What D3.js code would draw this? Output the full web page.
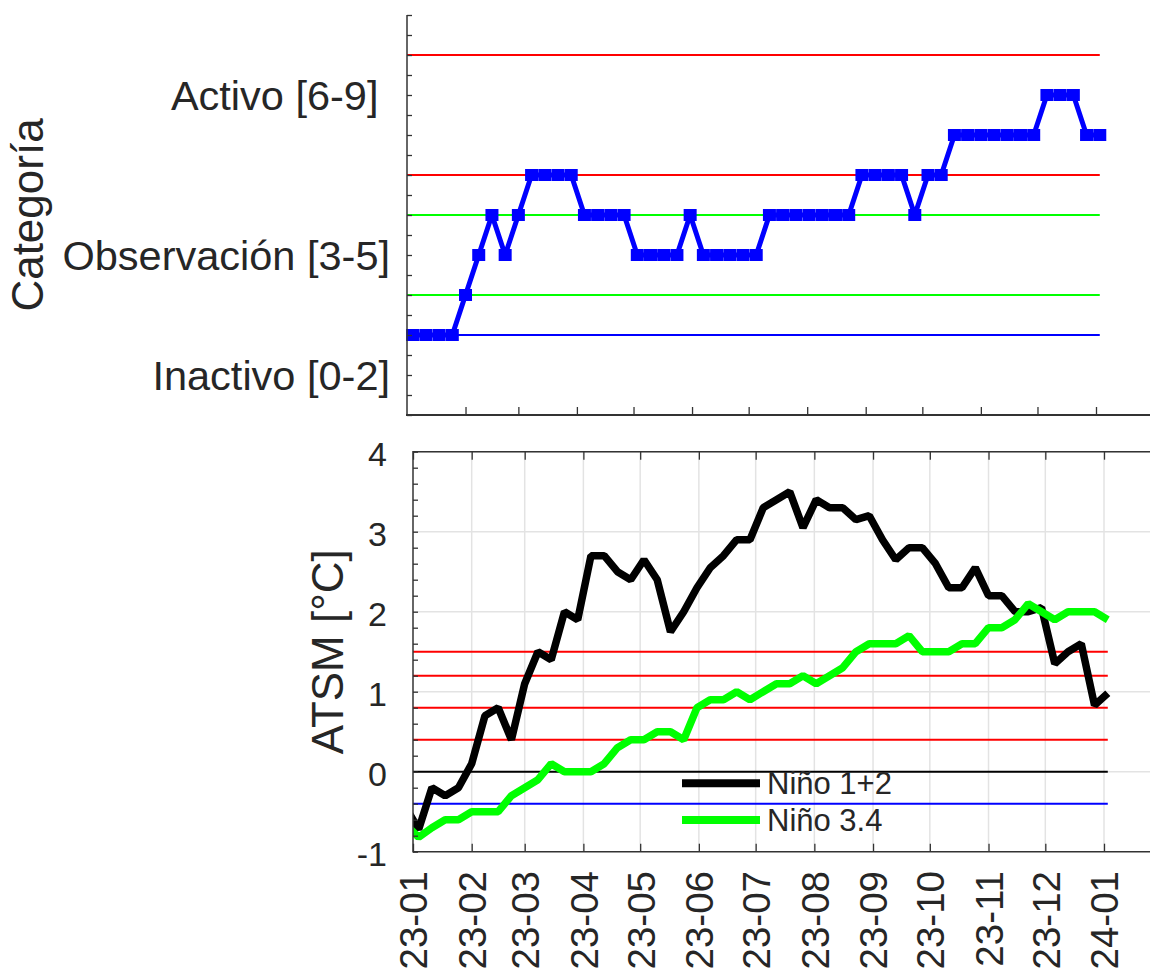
<!DOCTYPE html>
<html><head><meta charset="utf-8">
<script src="https://cdn.jsdelivr.net/npm/d3@7"></script>
<style>
body{margin:0;background:#fff}
svg{display:block}
text{font-family:"Liberation Sans",Arial,Helvetica,sans-serif;fill:#262626}
</style>
</head><body>
<svg id="c" width="1150" height="971"></svg>
<script>
// ---------------- data ----------------
const weekDates = [
 "2023-01-04","2023-01-11","2023-01-18","2023-01-25",
 "2023-02-01","2023-02-08","2023-02-15","2023-02-22",
 "2023-03-01","2023-03-08","2023-03-15","2023-03-22","2023-03-29",
 "2023-04-05","2023-04-12","2023-04-19","2023-04-26",
 "2023-05-03","2023-05-10","2023-05-17","2023-05-24","2023-05-31",
 "2023-06-07","2023-06-14","2023-06-21","2023-06-28",
 "2023-07-05","2023-07-12","2023-07-19","2023-07-26",
 "2023-08-02","2023-08-09","2023-08-16","2023-08-23","2023-08-30",
 "2023-09-06","2023-09-13","2023-09-20","2023-09-27",
 "2023-10-04","2023-10-11","2023-10-18","2023-10-25",
 "2023-11-01","2023-11-08","2023-11-15","2023-11-22","2023-11-29",
 "2023-12-06","2023-12-13","2023-12-20","2023-12-27",
 "2024-01-03"];
const sstDates = ["2022-12-28"].concat(weekDates);

// category level (top panel)
const categoryValues = [2,2,2,2,3,4,5,4,5,6,6,6,6,5,5,5,5,4,4,4,4,5,4,4,4,4,4,
 5,5,5,5,5,5,5,6,6,6,6,5,6,6,7,7,7,7,7,7,7,8,8,8,7,7];

// ATSM series (bottom panel)
const nino12 = [-0.44,-0.72,-0.2,-0.3,-0.2,0.1,0.7,0.8,0.4,1.1,1.5,1.4,2.0,1.9,2.7,2.7,2.5,2.4,2.65,2.4,
 1.75,2.0,2.3,2.55,2.7,2.9,2.9,3.3,3.4,3.5,3.05,3.4,3.3,3.3,3.15,3.2,2.9,2.65,2.8,2.8,
 2.6,2.3,2.3,2.55,2.2,2.2,2.0,2.0,2.05,1.35,1.5,1.6,0.83,0.98];
const nino34 = [-0.66,-0.82,-0.7,-0.6,-0.6,-0.5,-0.5,-0.5,-0.3,-0.2,-0.1,0.1,0.0,0.0,0.0,0.1,0.3,0.4,0.4,0.5,
 0.5,0.4,0.8,0.9,0.9,1.0,0.9,1.0,1.1,1.1,1.2,1.1,1.2,1.3,1.5,1.6,1.6,1.6,1.7,1.5,
 1.5,1.5,1.6,1.6,1.8,1.8,1.9,2.1,2.0,1.9,2.0,2.0,2.0,1.9];
const seriesNames = ["Niño 1+2","Niño 3.4"];

// thresholds
const catRed = [6,9], catGreen = [3,5], catBlue = [2];
const atsmRed = [0.4,0.8,1.2,1.5], atsmBlue = [-0.4], atsmZero = [0];

// ticks / labels
const catTickValues = [1,4,8];
const catTickLabels = ["Inactivo [0-2]","Observación [3-5]","Activo [6-9] "];
const atsmTicks = [-1,0,1,2,3,4];
const atsmTickLabels = ["-1","0","1","2","3","4"];
const monthTicks = ["2023-01-01","2023-02-01","2023-03-01","2023-04-01","2023-05-01","2023-06-01",
 "2023-07-01","2023-08-01","2023-09-01","2023-10-01","2023-11-01","2023-12-01","2024-01-01"];
const monthLabels = ["23-01","23-02","23-03","23-04","23-05","23-06","23-07","23-08","23-09","23-10","23-11","23-12","24-01"];

// ---------------- drawing ----------------
const parse = d3.utcParse("%Y-%m-%d");
const W = 1150;
const svg = d3.select("#c");
const AX = "#333333";
const FONT = '"Liberation Sans",Arial,sans-serif';
const months = monthTicks.map(parse);
const d0 = parse("2023-01-01"), d1 = parse("2024-01-01");
const lastDate = parse(weekDates[weekDates.length-1]);

// ===== Top panel =====
const xT = d3.scaleUtc().domain([d0,d1]).range([407,1096]);
const yT = d3.scaleLinear().domain([0,10]).range([415,15]);
const gTop = svg.append("g");

function hline(g, xs, y, color, w){
  g.append("line").attr("x1",xs[0]).attr("x2",xs[1]).attr("y1",y).attr("y2",y)
   .attr("stroke",color).attr("stroke-width",w);
}
catRed.forEach(v=>hline(gTop,[xT(d0),xT(lastDate)],yT(v),"#ff0000",2.2));
catGreen.forEach(v=>hline(gTop,[xT(d0),xT(lastDate)],yT(v),"#00ff00",2.2));
catBlue.forEach(v=>hline(gTop,[xT(d0),xT(lastDate)],yT(v),"#0000ff",2.2));

const catData = weekDates.map((d,i)=>({d:parse(d),v:categoryValues[i]}));
gTop.append("path").datum(catData)
  .attr("d",d3.line().x(p=>xT(p.d)).y(p=>yT(p.v)))
  .attr("fill","none").attr("stroke","#0000ff").attr("stroke-width",5).attr("stroke-linejoin","bevel");
gTop.selectAll("rect.mk").data(catData).join("rect").attr("class","mk")
  .attr("x",p=>xT(p.d)-6.5).attr("y",p=>yT(p.v)-6).attr("width",13).attr("height",12)
  .attr("fill","#0000ff");

// left axis (ticks inward)
const ly = gTop.append("g").attr("transform","translate(407,0)")
  .call(d3.axisLeft(yT).tickValues(d3.range(0,10.001,0.5)).tickSize(-5).tickFormat(""));
ly.select(".domain").remove();
ly.selectAll("line").attr("stroke",AX).attr("stroke-width",1.3);
gTop.append("line").attr("x1",407).attr("x2",407).attr("y1",15).attr("y2",415).attr("stroke",AX).attr("stroke-width",1.5);
const ll = gTop.append("g").attr("transform","translate(390,0)")
  .call(d3.axisLeft(yT).tickValues(catTickValues).tickSize(0)
    .tickFormat((d,i)=>catTickLabels[i]));
ll.select(".domain").remove();
ll.selectAll("text").attr("font-size",41.5).attr("fill","#262626").attr("x",0).attr("dy","0.35em")
  .attr("font-family",FONT).attr("xml:space","preserve").style("white-space","pre");
// bottom axis of top panel
const bx = gTop.append("g").attr("transform","translate(0,415)")
  .call(d3.axisBottom(xT).tickValues(months.slice(1)).tickSize(-8).tickFormat(""));
bx.select(".domain").remove();
bx.selectAll("line").attr("stroke",AX).attr("stroke-width",1.3);
gTop.append("line").attr("x1",406).attr("x2",W).attr("y1",415).attr("y2",415).attr("stroke",AX).attr("stroke-width",2);

svg.append("text").attr("transform","translate(43,215) rotate(-90)")
  .attr("text-anchor","middle").attr("font-size",44).text("Categoría");

// ===== Bottom panel =====
const xB = d3.scaleUtc().domain([d0,d1]).range([413,1104]);
const yB = d3.scaleLinear().domain([-1,4]).range([851.7,451.7]);
const bot = svg.append("g");
svg.append("defs").append("clipPath").attr("id","clipB")
  .append("rect").attr("x",413).attr("y",451.7).attr("width",W-413).attr("height",400);

// grid
bot.append("g").selectAll("line").data(months.slice(1)).join("line")
  .attr("x1",d=>xB(d)).attr("x2",d=>xB(d)).attr("y1",451.7).attr("y2",851.7)
  .attr("stroke","#e3e3e3").attr("stroke-width",1.5);
bot.append("g").selectAll("line").data(atsmTicks.slice(1)).join("line")
  .attr("x1",413).attr("x2",W).attr("y1",d=>yB(d)).attr("y2",d=>yB(d))
  .attr("stroke","#e3e3e3").attr("stroke-width",1.5);

atsmRed.forEach(v=>hline(bot,[xB(d0),xB(lastDate)],yB(v),"#ff0000",2));
atsmBlue.forEach(v=>hline(bot,[xB(d0),xB(lastDate)],yB(v),"#0000ff",2));
atsmZero.forEach(v=>hline(bot,[xB(d0),xB(lastDate)],yB(v),"#000000",2));

const lines = bot.append("g").attr("clip-path","url(#clipB)");
const lineGen = d3.line().x(p=>xB(p.d)).y(p=>yB(p.v));
const s12 = sstDates.map((d,i)=>({d:parse(d),v:nino12[i]}));
const s34 = sstDates.map((d,i)=>({d:parse(d),v:nino34[i]}));
lines.append("path").datum(s12).attr("d",lineGen).attr("fill","none")
  .attr("stroke","#000000").attr("stroke-width",7.5).attr("stroke-linejoin","bevel");
lines.append("path").datum(s34).attr("d",lineGen).attr("fill","none")
  .attr("stroke","#00ff00").attr("stroke-width",7.5).attr("stroke-linejoin","bevel");

// box
bot.append("line").attr("x1",413).attr("x2",W).attr("y1",451.7).attr("y2",451.7).attr("stroke",AX).attr("stroke-width",1.5);
bot.append("line").attr("x1",413).attr("x2",W).attr("y1",851.7).attr("y2",851.7).attr("stroke",AX).attr("stroke-width",1.5);
bot.append("line").attr("x1",413).attr("x2",413).attr("y1",451).attr("y2",852.5).attr("stroke",AX).attr("stroke-width",1.5);

// ticks
const tb = bot.append("g").attr("transform","translate(0,851.7)")
  .call(d3.axisBottom(xB).tickValues(months).tickSize(-8).tickFormat(""));
tb.select(".domain").remove();
tb.selectAll("line").attr("stroke",AX).attr("stroke-width",1.3);
const tt = bot.append("g").attr("transform","translate(0,451.7)")
  .call(d3.axisTop(xB).tickValues(months).tickSize(-8).tickFormat(""));
tt.select(".domain").remove();
tt.selectAll("line").attr("stroke",AX).attr("stroke-width",1.3);
const tl = bot.append("g").attr("transform","translate(413,0)")
  .call(d3.axisLeft(yB).tickValues(d3.range(-1,4.001,0.2)).tickSize(-5).tickFormat(""));
tl.select(".domain").remove();
tl.selectAll("line").attr("stroke",AX).attr("stroke-width",1.3);

// y labels
const yl = bot.append("g").attr("transform","translate(387,3)")
  .call(d3.axisLeft(yB).tickValues(atsmTicks).tickSize(0).tickFormat((d,i)=>atsmTickLabels[i]));
yl.select(".domain").remove();
yl.selectAll("text").attr("x",0).attr("font-size",34).attr("fill","#262626")
  .attr("font-family",FONT);

// x labels
const xl = bot.append("g").attr("transform","translate(0,871)")
  .call(d3.axisBottom(xB).tickValues(months).tickSize(0).tickFormat((d,i)=>monthLabels[i]));
xl.select(".domain").remove();
xl.selectAll("text").attr("font-size",38.5).attr("fill","#262626")
  .attr("font-family",FONT)
  .attr("text-anchor","end").attr("transform","rotate(-90)").attr("x",0).attr("y",0).attr("dy","0.36em");

svg.append("text").attr("transform","translate(343,651.7) rotate(-90)")
  .attr("text-anchor","middle").attr("font-size",44).text("ATSM [°C]");

// legend
const legColors = ["#000000","#00ff00"];
const leg = svg.append("g");
[783.3,820].forEach((y,i)=>{
  leg.append("line").attr("x1",682).attr("x2",760).attr("y1",y).attr("y2",y)
    .attr("stroke",legColors[i]).attr("stroke-width",8);
  leg.append("text").attr("x",767).attr("y",y).attr("dy","0.36em").attr("font-size",31)
    .attr("fill","#000").text(seriesNames[i]);
});
</script>
</body></html>
